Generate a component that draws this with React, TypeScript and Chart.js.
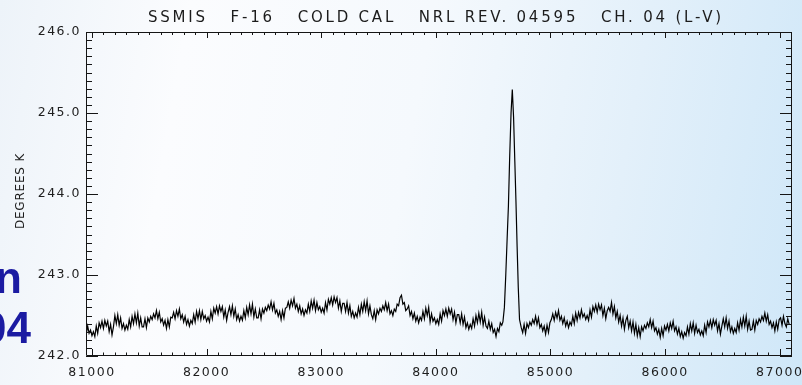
import { useEffect, useRef } from 'react';
import { Chart, registerables } from 'chart.js';

Chart.register(...registerables);

// ---- text ----
const TITLE = 'SSMIS   F-16   COLD CAL   NRL REV. 04595   CH. 04 (L-V)';
const Y_TITLE = 'DEGREES K';
const SLIDE_LINE_1 = 'n';
const SLIDE_LINE_2 = '04';

// ---- axes ----
const X_MIN = 80948;
const X_MAX = 87107;
const Y_MIN = 242;
const Y_MAX = 246;
const X_TICKS = [81000, 82000, 83000, 84000, 85000, 86000, 87000];
const Y_TICKS = [242, 243, 244, 245, 246];
const X_MINOR = 100;
const Y_MINOR = 0.1;

// ---- data: scan index (x) vs temperature (K) ----
const leftStart = 80950;
const leftStep = 12.5;
const leftValues = [
  242.27, 242.37, 242.28, 242.32, 242.25, 242.30, 242.24, 242.37, 242.28, 242.41, 242.35, 242.43, 242.34, 242.44, 242.37, 242.43, 242.30, 242.39, 242.26, 242.36,
  242.50, 242.40, 242.51, 242.38, 242.47, 242.34, 242.40, 242.32, 242.38, 242.33, 242.45, 242.36, 242.49, 242.40, 242.52, 242.41, 242.53, 242.37, 242.47, 242.36,
  242.36, 242.46, 242.35, 242.47, 242.42, 242.49, 242.45, 242.52, 242.47, 242.56, 242.46, 242.54, 242.42, 242.46, 242.38, 242.44, 242.34, 242.45, 242.36, 242.48,
  242.47, 242.54, 242.46, 242.56, 242.49, 242.58, 242.46, 242.51, 242.42, 242.49, 242.39, 242.45, 242.37, 242.44, 242.40, 242.51, 242.42, 242.55, 242.46, 242.56,
  242.45, 242.55, 242.46, 242.50, 242.43, 242.48, 242.42, 242.55, 242.46, 242.59, 242.53, 242.61, 242.52, 242.62, 242.55, 242.61, 242.48, 242.57, 242.44, 242.54,
  242.61, 242.51, 242.62, 242.49, 242.58, 242.45, 242.51, 242.43, 242.49, 242.44, 242.56, 242.47, 242.60, 242.51, 242.63, 242.52, 242.64, 242.48, 242.58, 242.47,
  242.47, 242.57, 242.46, 242.58, 242.53, 242.60, 242.56, 242.63, 242.58, 242.67, 242.57, 242.65, 242.53, 242.57, 242.49, 242.55, 242.45, 242.56, 242.47, 242.59,
  242.60, 242.67, 242.59, 242.69, 242.62, 242.71, 242.59, 242.64, 242.55, 242.62, 242.52, 242.58, 242.50, 242.57, 242.53, 242.64, 242.55, 242.68, 242.59, 242.69,
  242.56, 242.66, 242.57, 242.61, 242.54, 242.59, 242.53, 242.66, 242.57, 242.70, 242.64, 242.72, 242.63, 242.73, 242.66, 242.72, 242.59, 242.68, 242.55, 242.65,
  242.65, 242.55, 242.66, 242.53, 242.62, 242.49, 242.55, 242.47, 242.53, 242.48, 242.60, 242.51, 242.64, 242.55, 242.67, 242.56, 242.68, 242.52, 242.62, 242.51,
  242.46, 242.56, 242.45, 242.57, 242.52, 242.59, 242.55, 242.62, 242.57, 242.66, 242.56, 242.64, 242.52, 242.56, 242.50, 242.58, 242.55, 242.64, 242.62, 242.72,
  242.75, 242.64, 242.66, 242.56, 242.58, 242.62, 242.50, 242.55, 242.46, 242.53, 242.43, 242.49, 242.41, 242.48, 242.44, 242.55, 242.46, 242.59, 242.50, 242.60,
  242.42, 242.52, 242.43, 242.47, 242.40, 242.45, 242.39, 242.52, 242.43, 242.56, 242.50, 242.58, 242.49, 242.59, 242.52, 242.58, 242.45, 242.54, 242.41, 242.51,
  242.51, 242.41, 242.52, 242.39, 242.48, 242.35, 242.41, 242.33, 242.39, 242.34, 242.46, 242.37, 242.50, 242.41, 242.53, 242.42, 242.54, 242.38, 242.48, 242.37,
  242.34, 242.43, 242.33, 242.40, 242.29, 242.33, 242.24, 242.34, 242.30, 242.41, 242.38,
];

const spikeX = [84585, 84598, 84610, 84622, 84633, 84644, 84656, 84667, 84678, 84689, 84699, 84709, 84719, 84730, 84745];
const spikeY = [242.42, 242.60, 243.00, 243.45, 243.85, 244.45, 245.00, 245.29, 244.95, 244.40, 243.90, 243.35, 242.85, 242.45, 242.35];

const rightStart = 84757.5;
const rightStep = 12.5;
const rightValues = [
  242.29, 242.39, 242.28, 242.40, 242.35, 242.42, 242.38, 242.45, 242.40, 242.49, 242.39, 242.47, 242.35, 242.39, 242.31, 242.37, 242.27, 242.38, 242.29, 242.41,
  242.45, 242.52, 242.44, 242.54, 242.47, 242.56, 242.44, 242.49, 242.40, 242.47, 242.37, 242.43, 242.35, 242.42, 242.38, 242.49, 242.40, 242.53, 242.44, 242.54,
  242.47, 242.57, 242.48, 242.52, 242.45, 242.50, 242.44, 242.57, 242.48, 242.61, 242.55, 242.63, 242.54, 242.64, 242.57, 242.63, 242.50, 242.59, 242.46, 242.56,
  242.60, 242.55, 242.66, 242.52, 242.61, 242.47, 242.55, 242.42, 242.50, 242.37, 242.47, 242.33, 242.44, 242.49, 242.35, 242.43, 242.31, 242.42, 242.28, 242.39,
  242.25, 242.35, 242.24, 242.36, 242.31, 242.38, 242.34, 242.41, 242.36, 242.45, 242.35, 242.43, 242.31, 242.35, 242.27, 242.33, 242.23, 242.34, 242.25, 242.37,
  242.32, 242.39, 242.31, 242.41, 242.34, 242.43, 242.31, 242.36, 242.27, 242.34, 242.24, 242.30, 242.22, 242.29, 242.25, 242.36, 242.27, 242.40, 242.31, 242.41,
  242.28, 242.38, 242.29, 242.33, 242.26, 242.31, 242.25, 242.38, 242.29, 242.42, 242.36, 242.44, 242.35, 242.45, 242.38, 242.44, 242.31, 242.40, 242.27, 242.37,
  242.46, 242.36, 242.47, 242.34, 242.43, 242.30, 242.36, 242.28, 242.34, 242.29, 242.41, 242.32, 242.45, 242.36, 242.48, 242.37, 242.49, 242.33, 242.43, 242.32,
  242.33, 242.43, 242.32, 242.44, 242.39, 242.46, 242.42, 242.49, 242.44, 242.53, 242.43, 242.51, 242.39, 242.43, 242.35, 242.41, 242.31, 242.42, 242.33, 242.45,
  242.47, 242.38, 242.49, 242.40, 242.36, 242.46, 242.39,
];

const TICK_FONT = '"DejaVu Sans", sans-serif';

const frameTicks = {
  id: 'frameTicks',
  afterDatasetsDraw(chart: any) {
    const { ctx, chartArea, scales } = chart;
    const { left, right, top, bottom } = chartArea;
    const x = scales.x;
    const y = scales.y;
    ctx.save();
    ctx.strokeStyle = '#151515';
    ctx.lineWidth = 1;
    ctx.beginPath();
    ctx.rect(Math.round(left) + 0.5, Math.round(top) + 0.5, Math.round(right - left) - 1, Math.round(bottom - top) - 1);
    const kx0 = Math.ceil(X_MIN / X_MINOR);
    const kx1 = Math.floor(X_MAX / X_MINOR);
    for (let k = kx0; k <= kx1; k++) {
      const major = k % 10 === 0;
      const px = Math.round(x.getPixelForValue(k * X_MINOR)) + 0.5;
      ctx.moveTo(px, bottom);
      ctx.lineTo(px, bottom - (major ? 7 : 3.5));
      ctx.moveTo(px, top);
      ctx.lineTo(px, top + (major ? 6 : 3));
    }
    const ky0 = Math.round(Y_MIN / Y_MINOR);
    const ky1 = Math.round(Y_MAX / Y_MINOR);
    for (let k = ky0; k <= ky1; k++) {
      const major = k % 10 === 0;
      const py = Math.round(y.getPixelForValue(k * Y_MINOR)) + 0.5;
      ctx.moveTo(left, py);
      ctx.lineTo(left + (major ? 12 : 6), py);
      ctx.moveTo(right, py);
      ctx.lineTo(right - (major ? 12 : 6), py);
    }
    ctx.stroke();
    ctx.restore();
  },
};

const textPlugin = {
  id: 'textPlugin',
  beforeLayout(chart: any) {
    chart.ctx.letterSpacing = '1.5px';
  },
  beforeDraw(chart: any) {
    chart.ctx.letterSpacing = '1.5px';
  },
  afterDraw(chart: any) {
    const { ctx, chartArea } = chart;
    const { left, right, top, bottom } = chartArea;
    ctx.save();
    ctx.fillStyle = '#1c1c1c';
    ctx.font = '15px "DejaVu Sans", sans-serif';
    ctx.letterSpacing = '2.8px';
    ctx.textAlign = 'center';
    ctx.textBaseline = 'alphabetic';
    ctx.fillText(TITLE, (left + right) / 2 - 3, 21.5);
    ctx.save();
    ctx.font = '12px "DejaVu Sans", sans-serif';
    ctx.letterSpacing = '0.8px';
    ctx.translate(24, (top + bottom) / 2 - 3);
    ctx.rotate(-Math.PI / 2);
    ctx.textAlign = 'center';
    ctx.fillText(Y_TITLE, 0, 0);
    ctx.restore();
    ctx.letterSpacing = '0px';
    ctx.fillStyle = '#1b1ba2';
    ctx.font = 'bold 44px "Liberation Sans", Arial, sans-serif';
    ctx.textAlign = 'right';
    ctx.fillText(SLIDE_LINE_1, 22, 293);
    ctx.fillText(SLIDE_LINE_2, 31, 343);
    ctx.restore();
  },
};

export default function App() {
  const ref = useRef<HTMLCanvasElement | null>(null);
  useEffect(() => {
    document.body.style.margin = '0';
    const points: { x: number; y: number }[] = [];
    leftValues.forEach((v, i) => points.push({ x: leftStart + i * leftStep, y: v }));
    spikeX.forEach((xv, i) => points.push({ x: xv, y: spikeY[i] }));
    rightValues.forEach((v, i) => points.push({ x: rightStart + i * rightStep, y: v }));

    const chart = new Chart(ref.current as HTMLCanvasElement, {
      type: 'line',
      data: {
        datasets: [
          {
            data: points,
            borderColor: '#000000',
            borderWidth: 1.2,
            pointRadius: 0,
            tension: 0,
            fill: false,
          },
        ],
      },
      options: {
        animation: false,
        responsive: false,
        devicePixelRatio: 1,
        layout: { padding: { top: 32, right: 10, left: 0, bottom: 0 } },
        plugins: { legend: { display: false }, tooltip: { enabled: false }, title: { display: false } },
        scales: {
          x: {
            type: 'linear',
            min: X_MIN,
            max: X_MAX,
            grid: { display: false, drawTicks: false },
            border: { display: false },
            afterBuildTicks: (s: any) => {
              s.ticks = X_TICKS.map((value) => ({ value }));
            },
            afterFit: (s: any) => {
              s.height = 29;
              s.paddingLeft = 0;
              s.paddingRight = 0;
            },
            ticks: {
              maxRotation: 0,
              minRotation: 0,
              autoSkip: false,
              padding: 9,
              color: '#1e1e1e',
              font: { family: TICK_FONT, size: 12.5 },
              callback: (v: any) => String(v),
            },
          },
          y: {
            type: 'linear',
            min: Y_MIN,
            max: Y_MAX,
            grid: { display: false, drawTicks: false },
            border: { display: false },
            afterBuildTicks: (s: any) => {
              s.ticks = Y_TICKS.map((value) => ({ value }));
            },
            afterFit: (s: any) => {
              s.width = 86;
              s.paddingTop = 0;
              s.paddingBottom = 0;
            },
            ticks: {
              padding: 5,
              autoSkip: false,
              color: '#1e1e1e',
              font: { family: TICK_FONT, size: 12.5 },
              callback: (v: any) => Number(v).toFixed(1),
            },
          },
        },
      },
      plugins: [frameTicks, textPlugin],
    } as any);
    return () => chart.destroy();
  }, []);

  return (
    <div
      style={{
        position: 'fixed',
        left: 0,
        top: 0,
        width: 802,
        height: 385,
        background:
          'linear-gradient(100deg, #edf3f9 0%, #fbfcfe 22%, #f5f9fd 50%, #e3f0fa 75%, #cfe7f8 100%)',
      }}
    >
      <canvas ref={ref} width={802} height={385} style={{ display: 'block', width: 802, height: 385 }} />
    </div>
  );
}
